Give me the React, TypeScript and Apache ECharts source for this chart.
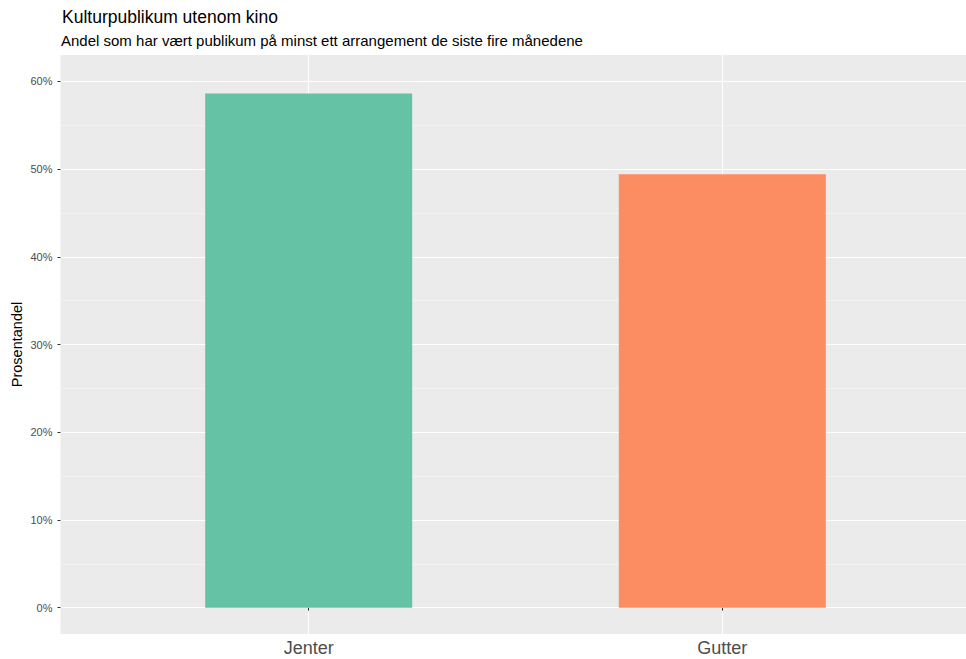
import React, { useEffect, useRef } from "react";
import * as echarts from "echarts";

const categories = ["Jenter", "Gutter"];
const values = [58.6, 49.4];
const barColors = ["#66c2a5", "#fc8d62"];
const yMajorTicks = [0, 10, 20, 30, 40, 50, 60];
const yMinorTicks = [5, 15, 25, 35, 45, 55];
const titleText = "Kulturpublikum utenom kino";
const subtitleText = "Andel som har vært publikum på minst ett arrangement de siste fire månedene";
const yAxisTitle = "Prosentandel";

const FONT = "Liberation Sans, Arial, Helvetica, sans-serif";

export default function App() {
  const ref = useRef<HTMLDivElement>(null);
  useEffect(() => {
    if (!ref.current) return;
    const chart = echarts.init(ref.current, null, { renderer: "svg" });
    const xPositions = categories.map((_, i) => i + 1);
    chart.setOption({
      animation: false,
      backgroundColor: "#ffffff",
      textStyle: { fontFamily: FONT },
      title: [
        {
          text: titleText,
          left: 62,
          top: 8,
          padding: 0,
          textStyle: { fontSize: 17.5, fontWeight: "normal", color: "#000", fontFamily: FONT },
        },
        {
          text: subtitleText,
          left: 61,
          top: 33,
          padding: 0,
          textStyle: { fontSize: 15, fontWeight: "normal", color: "#000", fontFamily: FONT },
        },
      ],
      grid: {
        left: 60.5,
        right: -4.5,
        top: 55,
        bottom: 25,
        show: true,
        backgroundColor: "#ebebeb",
        borderWidth: 0,
        containLabel: false,
        outerBoundsMode: "none",
      },
      xAxis: {
        type: "value",
        min: 0.4,
        max: 2.6,
        axisLine: { show: false },
        axisTick: {
          show: true,
          length: 3,
          customValues: xPositions,
          lineStyle: { color: "#333333", width: 1 },
        },
        axisLabel: {
          customValues: xPositions,
          formatter: (v: number) => categories[Math.round(v) - 1] ?? "",
          fontSize: 18,
          color: "#4d4d4d",
          margin: 5,
          fontFamily: FONT,
        },
        splitLine: { show: true, lineStyle: { color: "#ffffff", width: 1.1 } },
      },
      yAxis: [
        {
          type: "value",
          min: -3,
          max: 63,
          name: yAxisTitle,
          nameLocation: "middle",
          nameRotate: 90,
          nameGap: 36,
          nameMoveOverlap: false,
          nameTextStyle: { fontSize: 14.5, color: "#000", fontFamily: FONT },
          axisLine: { show: false },
          axisTick: {
            show: true,
            length: 3,
            customValues: yMajorTicks,
            lineStyle: { color: "#333333", width: 1 },
          },
          axisLabel: {
            customValues: yMajorTicks,
            formatter: (v: number) => `${v}%`,
            fontSize: 11,
            color: "#4d4d4d",
            margin: 8,
            fontFamily: FONT,
          },
          splitLine: { show: true, lineStyle: { color: "#ffffff", width: 1.1 } },
        },
        {
          type: "value",
          min: -3,
          max: 63,
          position: "left",
          axisLine: { show: false },
          axisTick: { show: false, customValues: yMinorTicks },
          axisLabel: { show: false, customValues: yMinorTicks },
          splitLine: { show: true, lineStyle: { color: "#f7f7f7", width: 0.6 } },
        },
      ],
      series: [
        {
          type: "bar",
          yAxisIndex: 0,
          barWidth: 207,
          data: values.map((v, i) => ({
            value: [xPositions[i], v],
            itemStyle: { color: barColors[i] },
          })),
        },
      ],
    });
    return () => chart.dispose();
  }, []);
  return (
    <div
      ref={ref}
      style={{ position: "fixed", left: 0, top: 0, width: 966, height: 659, overflow: "hidden" }}
    />
  );
}
